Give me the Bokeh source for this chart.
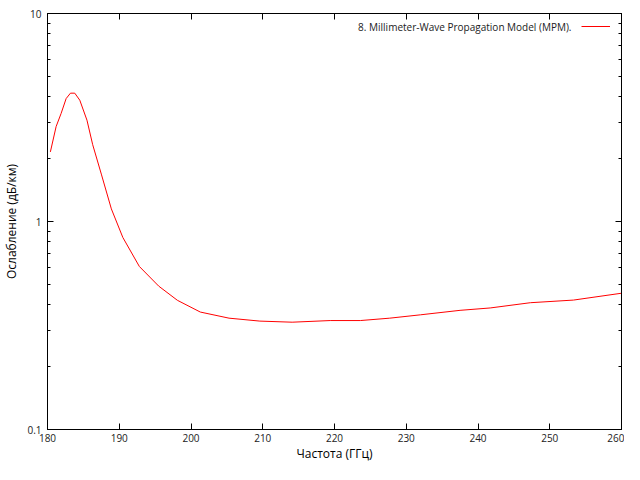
from bokeh.plotting import figure
from bokeh.models import (FixedTicker, LinearAxis, LogAxis, CustomJSTickFormatter,
                          Label, Legend, LegendItem, Range1d)
from bokeh.embed import file_html
from bokeh.resources import INLINE

# Data
freq_ghz = [180.4, 181.2, 181.9, 182.6, 183.2, 183.8, 184.5, 185.5, 186.3, 187.5,
            188.9, 190.5, 192.8, 195.5, 198.1, 201.3, 205.3, 209.6, 214.1, 219.4,
            223.6, 227.7, 232.0, 237.5, 241.7, 247.3, 253.3, 260.0]
atten_db_km = [2.16, 2.86, 3.31, 3.90, 4.14, 4.14, 3.83, 3.07, 2.34, 1.69,
               1.15, 0.838, 0.608, 0.489, 0.418, 0.367, 0.343, 0.332, 0.328, 0.334,
               0.334, 0.343, 0.356, 0.374, 0.384, 0.407, 0.419, 0.452]
x_ticks = [180, 190, 200, 210, 220, 230, 240, 250, 260]
y_major = [0.1, 1, 10]
y_minor = [0.2, 0.3, 0.4, 0.5, 0.6, 0.7, 0.8, 0.9, 2, 3, 4, 5, 6, 7, 8, 9]
series_name = "8. Millimeter-Wave Propagation Model (MPM)."
x_title = "Частота (ГГц)"
y_title = "Ослабление (дБ/км)"

FONT = "Open Sans"

p = figure(width=624, height=464, y_axis_type="log",
           x_range=Range1d(180, 260), y_range=Range1d(0.1, 10),
           output_backend="svg", toolbar_location=None,
           min_border_left=40, min_border_right=3, min_border_top=13, min_border_bottom=31)
p.background_fill_color = "white"
p.border_fill_color = "white"
p.grid.visible = False
p.outline_line_color = "black"
p.outline_line_width = 1

r = p.line(freq_ghz, atten_db_km, line_color="#ff0000", line_width=1)

xt = FixedTicker(ticks=x_ticks, minor_ticks=[])
yt = FixedTicker(ticks=y_major, minor_ticks=y_minor)
yfmt = CustomJSTickFormatter(code="return tick.toString();")
blank = CustomJSTickFormatter(code="return '';")

def style(ax):
    ax.axis_line_color = "black"
    ax.major_tick_line_color = "black"
    ax.minor_tick_line_color = "black"
    ax.major_tick_in = 6
    ax.major_tick_out = 0
    ax.minor_tick_in = 3
    ax.minor_tick_out = 0
    ax.major_label_text_font = FONT
    ax.major_label_text_font_size = "10px"
    ax.major_label_text_color = "#222222"
    ax.axis_label_text_font = FONT
    ax.axis_label_text_font_size = "12px"
    ax.axis_label_text_font_style = "normal"
    ax.axis_label_text_color = "black"

xa = p.xaxis[0]
xa.ticker = xt
xa.axis_label = x_title
style(xa)
xa.major_label_standoff = 4
xa.axis_label_standoff = 0

ya = p.yaxis[0]
ya.ticker = yt
ya.formatter = yfmt
ya.axis_label = y_title
style(ya)
ya.major_label_standoff = 6
ya.axis_label_standoff = 4

top = LinearAxis(ticker=xt, formatter=blank)
style(top)
top.major_label_standoff = 0
top.major_label_text_font_size = "0px"
p.add_layout(top, "above")

right = LogAxis(ticker=yt, formatter=blank)
style(right)
right.major_label_standoff = 0
right.major_label_text_font_size = "0px"
p.add_layout(right, "right")

# legend: text then sample line (gnuplot style)
p.add_layout(Label(x=524, y=403, x_units="screen", y_units="screen", text=series_name,
                   text_align="right", text_baseline="middle",
                   text_font=FONT, text_font_size="10px", text_color="#222222"))
leg = Legend(items=[LegendItem(label=" ", renderers=[r])], location="top_right",
             border_line_color=None, background_fill_alpha=0, padding=0, spacing=0,
             margin=9, glyph_width=29, glyph_height=8, label_standoff=0,
             label_width=2, label_height=8,
             label_text_font=FONT, label_text_font_size="6px")
p.add_layout(leg)

open("out.html", "w").write(file_html(p, INLINE))
